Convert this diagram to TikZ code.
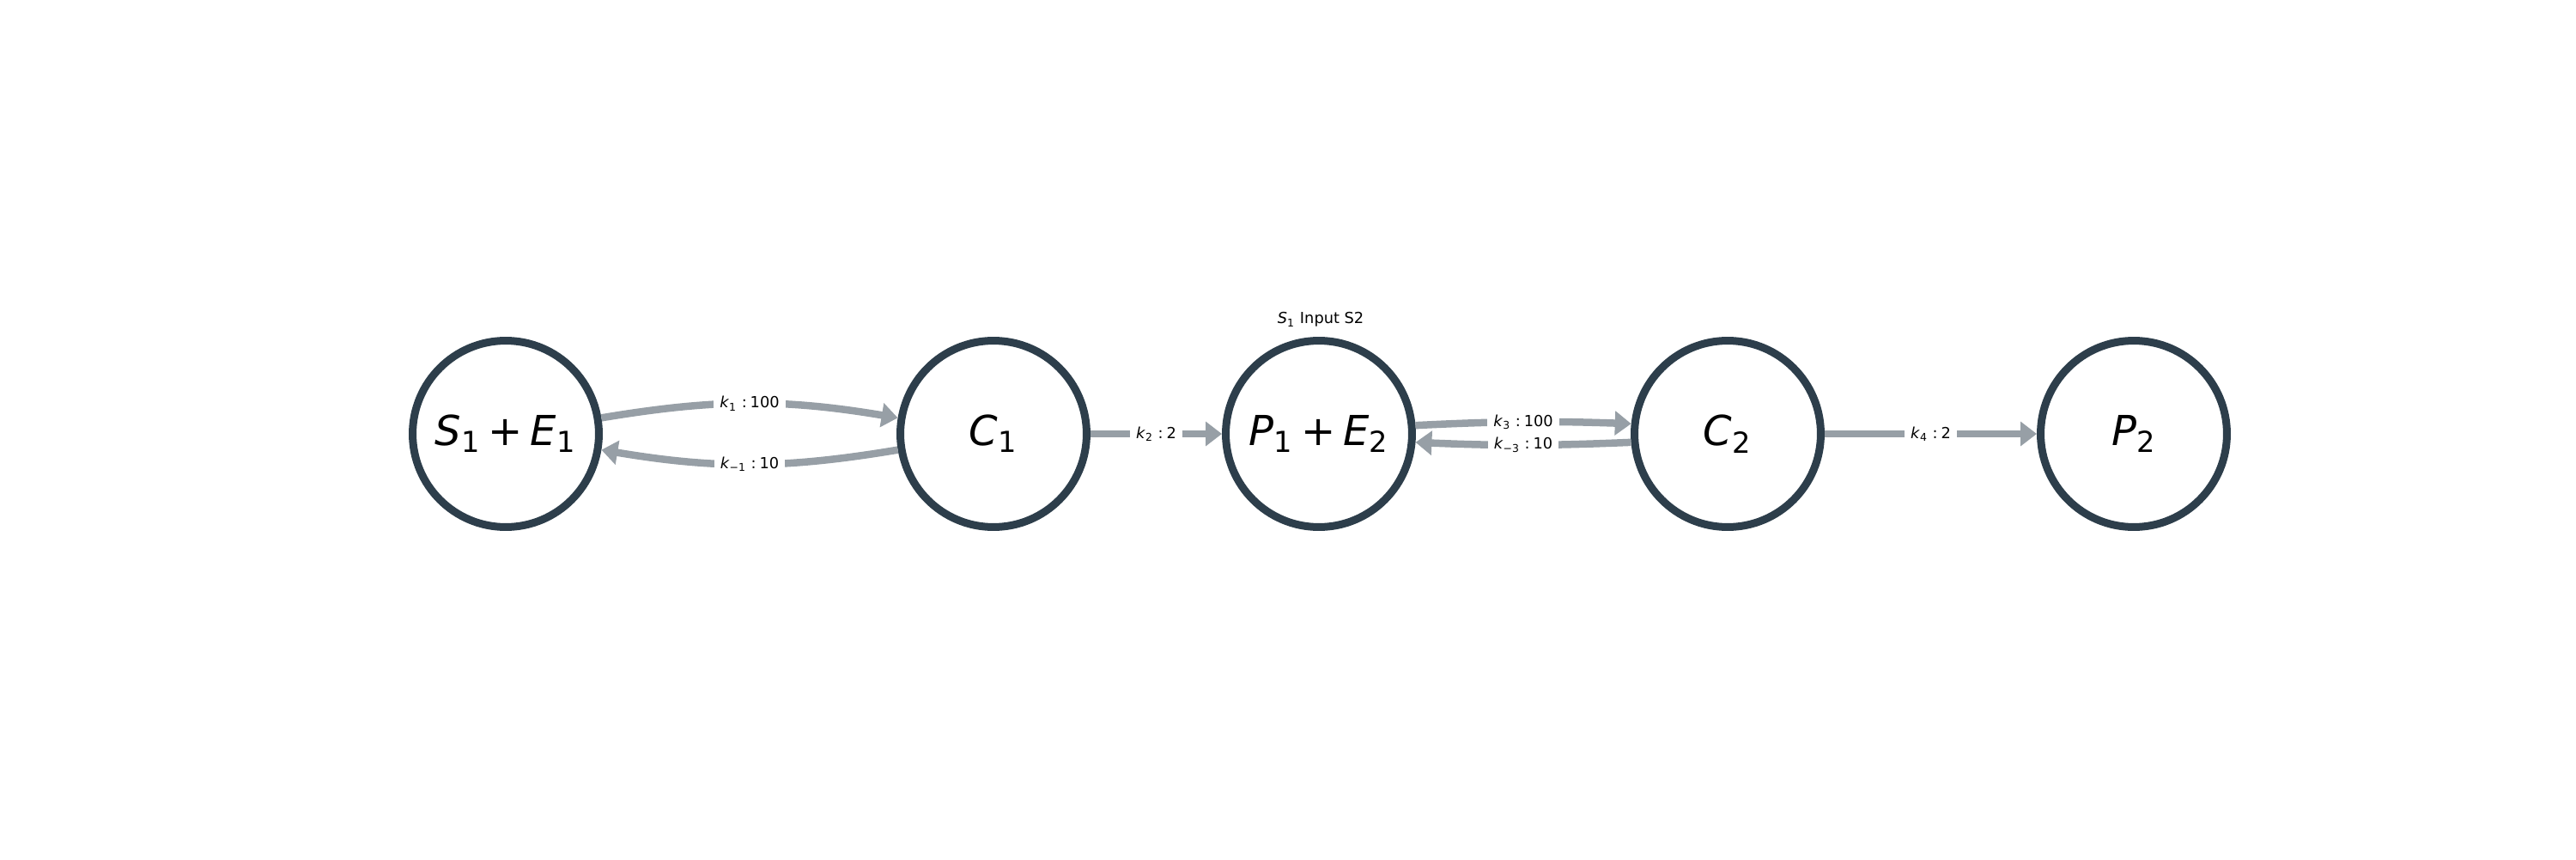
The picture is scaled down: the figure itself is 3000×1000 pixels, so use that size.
\documentclass[tikz,border=0pt]{standalone}
\usepackage{fontspec}
\setmainfont{DejaVu Sans}
\usetikzlibrary{arrows.meta}
\definecolor{nodeedge}{HTML}{2D3E4B}
\definecolor{arrowgray}{HTML}{979FA6}
\newcommand\klab[2]{\textit{k}\textsubscript{#1}\hspace{0.3em}:\hspace{0.22em}#2}
\newcommand\plus{\hspace{0.18em}+\hspace{0.18em}}
\begin{document}
\begin{tikzpicture}[x=0.36pt,y=0.36pt,
  state/.style={circle, draw=nodeedge, line width=3.24pt, fill=white, minimum size=78.1pt, inner sep=0pt, font=\fontsize{17.3}{20}\selectfont},
  edge/.style={draw=arrowgray, line width=3.06pt, -{Triangle[length=6.8pt,width=9.9pt]}},
  lab/.style={fill=white, inner xsep=2.5pt, inner ysep=1.5pt, font=\fontsize{6.4}{7.5}\selectfont, text=black},
  toplab/.style={font=\fontsize{6.4}{7.5}\selectfont, text=black}]
\useasboundingbox (0,0) rectangle (3000,1000);
\node[state] (s1) at (589,495) {\textit{S}\textsubscript{1}\plus\textit{E}\textsubscript{1}};
\node[state] (c1) at (1157,495) {\textit{C}\textsubscript{1}};
\node[state] (p1) at (1536,495) {\textit{P}\textsubscript{1}\plus\textit{E}\textsubscript{2}};
\node[state] (c2) at (2012,495) {\textit{C}\textsubscript{2}};
\node[state] (p2) at (2485,495) {\textit{P}\textsubscript{2}};
\node[toplab] (inp) at (1538,628) {\textit{S}\textsubscript{1} Input S2};
\draw[edge] (s1) to[bend left=9.5] node[lab]{\klab{1}{100}} (c1);
\draw[edge] (c1) to[bend left=9.5] node[lab]{\klab{−1}{10}} (s1);
\draw[edge] (c1) -- node[lab]{\klab{2}{2}} (p1);
\draw[edge] (p1.5.5) to[bend left=2.4] node[lab]{\klab{3}{100}} (c2.174.5);
\draw[edge] (c2.185.5) to[bend left=2.4] node[lab]{\klab{−3}{10}} (p1.-5.5);
\draw[edge] (c2) -- node[lab]{\klab{4}{2}} (p2);
\end{tikzpicture}
\end{document}
